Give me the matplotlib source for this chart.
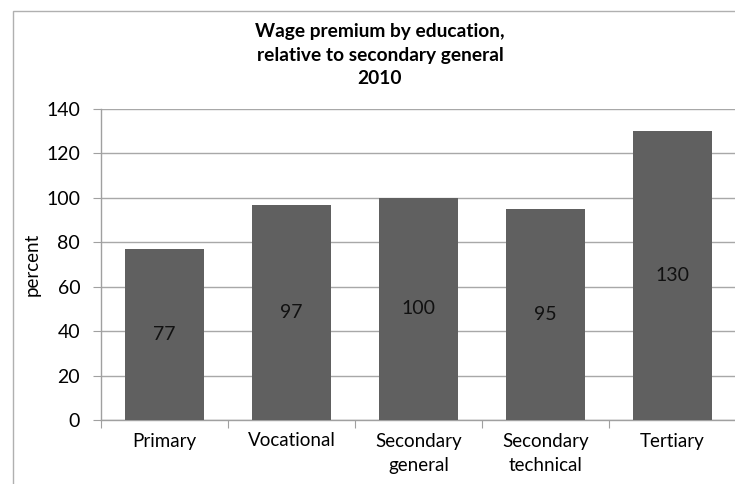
import matplotlib
matplotlib.use("Agg")
import matplotlib.pyplot as plt
from matplotlib.patches import Rectangle

# Wage premium relative to secondary general education, 2010
categories = ["Primary", "Vocational", "Secondary\ngeneral", "Secondary\ntechnical", "Tertiary"]
premium = [77, 97, 100, 95, 130]

plt.rcParams['font.family'] = ['Lato', 'DejaVu Sans']

fig = plt.figure(figsize=(7.35, 4.84), dpi=100)
fig.patch.set_facecolor("white")

# chart area border (runs off the right and bottom edge)
fig.patches.append(Rectangle((13 / 735, -0.05), 1.0, 1 - 11 / 484 + 0.05,
                             transform=fig.transFigure, fill=False,
                             edgecolor="#b0b0b0", linewidth=1.0))

ax = fig.add_axes([101 / 735, 64 / 484, 635 / 735, 311 / 484])

x = range(len(categories))
bars = ax.bar(x, premium, width=0.615, color="#606060", zorder=3)
for rect, val in zip(bars, premium):
    ax.text(rect.get_x() + rect.get_width() / 2, val / 2, str(val),
            ha="center", va="center", fontsize=14, color="#111111", zorder=4)

ax.set_xlim(-0.5, len(categories) - 0.5)
ax.set_ylim(0, 140)
ax.set_yticks(range(0, 141, 20))
ax.yaxis.grid(True, color="#a8a8a8", linewidth=1.0, zorder=0)

# category boundaries get the tick marks, names sit between them
ax.set_xticks([i - 0.5 for i in range(len(categories) + 1)], minor=False)
ax.set_xticklabels([])
ax.set_xticks(list(x), minor=True)
ax.set_xticklabels(categories, minor=True, fontsize=13.5, linespacing=1.55)
ax.tick_params(axis="x", which="minor", length=0, pad=9)
ax.tick_params(axis="x", which="major", length=6, color="#a0a0a0")
ax.tick_params(axis="y", length=6, color="#a0a0a0", labelsize=14, pad=9)

for side in ["top", "right"]:
    ax.spines[side].set_visible(False)
for side in ["left", "bottom"]:
    ax.spines[side].set_color("#a0a0a0")
    ax.spines[side].set_linewidth(1.0)

ax.set_ylabel("percent", fontsize=13.5, labelpad=4)

fig.text(380 / 735, 1 - 31 / 484, "Wage premium by education,", ha="center", va="center",
         fontsize=13.8, fontweight="bold")
fig.text(380 / 735, 1 - 55 / 484, "relative to secondary general", ha="center", va="center",
         fontsize=13.8, fontweight="bold")
fig.text(380 / 735, 1 - 78 / 484, "2010", ha="center", va="center",
         fontsize=13.8, fontweight="bold")

fig.savefig("out.png", dpi=100)
